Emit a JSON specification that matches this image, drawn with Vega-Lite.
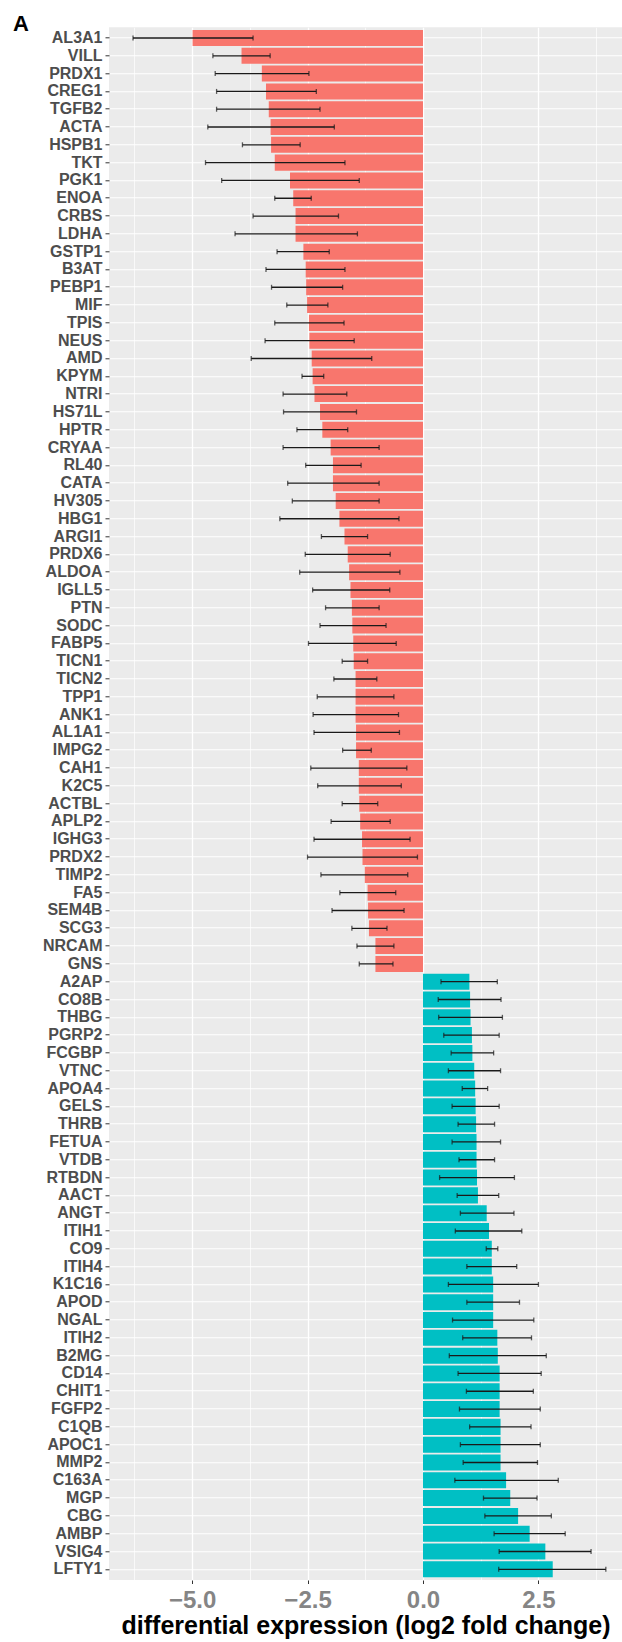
{
  "$schema": "https://vega.github.io/schema/vega-lite/v6.json",
  "autosize": {"type": "none"},
  "padding": {"left": 109, "top": 27.3, "right": 0, "bottom": 62},
  "width": 513,
  "height": 1552.7,
  "background": "white",
  "title": {
    "text": "A",
    "anchor": "start",
    "frame": "group",
    "dx": -96,
    "dy": 9,
    "offset": 0,
    "font": "Liberation Sans",
    "fontSize": 22,
    "fontWeight": "bold",
    "color": "black"
  },
  "config": {
    "view": {"fill": "#EBEBEB", "stroke": null},
    "font": "Liberation Sans"
  },
  "data": {
    "values": [
      {"g": "AL3A1", "fc": -4.99, "lo": -6.28, "hi": -3.68, "dir": "down"},
      {"g": "VILL", "fc": -3.93, "lo": -4.55, "hi": -3.31, "dir": "down"},
      {"g": "PRDX1", "fc": -3.49, "lo": -4.50, "hi": -2.47, "dir": "down"},
      {"g": "CREG1", "fc": -3.40, "lo": -4.47, "hi": -2.31, "dir": "down"},
      {"g": "TGFB2", "fc": -3.34, "lo": -4.47, "hi": -2.23, "dir": "down"},
      {"g": "ACTA", "fc": -3.30, "lo": -4.66, "hi": -1.92, "dir": "down"},
      {"g": "HSPB1", "fc": -3.29, "lo": -3.91, "hi": -2.66, "dir": "down"},
      {"g": "TKT", "fc": -3.21, "lo": -4.71, "hi": -1.69, "dir": "down"},
      {"g": "PGK1", "fc": -2.88, "lo": -4.36, "hi": -1.38, "dir": "down"},
      {"g": "ENOA", "fc": -2.81, "lo": -3.21, "hi": -2.42, "dir": "down"},
      {"g": "CRBS", "fc": -2.76, "lo": -3.68, "hi": -1.83, "dir": "down"},
      {"g": "LDHA", "fc": -2.76, "lo": -4.07, "hi": -1.42, "dir": "down"},
      {"g": "GSTP1", "fc": -2.59, "lo": -3.16, "hi": -2.03, "dir": "down"},
      {"g": "B3AT", "fc": -2.54, "lo": -3.40, "hi": -1.69, "dir": "down"},
      {"g": "PEBP1", "fc": -2.53, "lo": -3.28, "hi": -1.74, "dir": "down"},
      {"g": "MIF", "fc": -2.51, "lo": -2.95, "hi": -2.06, "dir": "down"},
      {"g": "TPIS", "fc": -2.47, "lo": -3.21, "hi": -1.71, "dir": "down"},
      {"g": "NEUS", "fc": -2.46, "lo": -3.42, "hi": -1.49, "dir": "down"},
      {"g": "AMD", "fc": -2.41, "lo": -3.72, "hi": -1.11, "dir": "down"},
      {"g": "KPYM", "fc": -2.39, "lo": -2.62, "hi": -2.15, "dir": "down"},
      {"g": "NTRI", "fc": -2.35, "lo": -3.03, "hi": -1.65, "dir": "down"},
      {"g": "HS71L", "fc": -2.23, "lo": -3.02, "hi": -1.44, "dir": "down"},
      {"g": "HPTR", "fc": -2.18, "lo": -2.73, "hi": -1.63, "dir": "down"},
      {"g": "CRYAA", "fc": -2.00, "lo": -3.03, "hi": -0.95, "dir": "down"},
      {"g": "RL40", "fc": -1.95, "lo": -2.54, "hi": -1.34, "dir": "down"},
      {"g": "CATA", "fc": -1.95, "lo": -2.93, "hi": -0.95, "dir": "down"},
      {"g": "HV305", "fc": -1.89, "lo": -2.83, "hi": -0.95, "dir": "down"},
      {"g": "HBG1", "fc": -1.81, "lo": -3.10, "hi": -0.52, "dir": "down"},
      {"g": "ARGI1", "fc": -1.70, "lo": -2.20, "hi": -1.20, "dir": "down"},
      {"g": "PRDX6", "fc": -1.63, "lo": -2.55, "hi": -0.71, "dir": "down"},
      {"g": "ALDOA", "fc": -1.60, "lo": -2.67, "hi": -0.50, "dir": "down"},
      {"g": "IGLL5", "fc": -1.57, "lo": -2.39, "hi": -0.72, "dir": "down"},
      {"g": "PTN", "fc": -1.54, "lo": -2.11, "hi": -0.95, "dir": "down"},
      {"g": "SODC", "fc": -1.53, "lo": -2.23, "hi": -0.80, "dir": "down"},
      {"g": "FABP5", "fc": -1.51, "lo": -2.48, "hi": -0.58, "dir": "down"},
      {"g": "TICN1", "fc": -1.50, "lo": -1.75, "hi": -1.20, "dir": "down"},
      {"g": "TICN2", "fc": -1.46, "lo": -1.93, "hi": -1.00, "dir": "down"},
      {"g": "TPP1", "fc": -1.46, "lo": -2.29, "hi": -0.63, "dir": "down"},
      {"g": "ANK1", "fc": -1.46, "lo": -2.38, "hi": -0.53, "dir": "down"},
      {"g": "AL1A1", "fc": -1.45, "lo": -2.36, "hi": -0.51, "dir": "down"},
      {"g": "IMPG2", "fc": -1.45, "lo": -1.74, "hi": -1.12, "dir": "down"},
      {"g": "CAH1", "fc": -1.39, "lo": -2.43, "hi": -0.35, "dir": "down"},
      {"g": "K2C5", "fc": -1.39, "lo": -2.28, "hi": -0.47, "dir": "down"},
      {"g": "ACTBL", "fc": -1.38, "lo": -1.75, "hi": -0.98, "dir": "down"},
      {"g": "APLP2", "fc": -1.36, "lo": -1.99, "hi": -0.71, "dir": "down"},
      {"g": "IGHG3", "fc": -1.32, "lo": -2.36, "hi": -0.28, "dir": "down"},
      {"g": "PRDX2", "fc": -1.31, "lo": -2.50, "hi": -0.12, "dir": "down"},
      {"g": "TIMP2", "fc": -1.26, "lo": -2.21, "hi": -0.33, "dir": "down"},
      {"g": "FA5", "fc": -1.20, "lo": -1.80, "hi": -0.59, "dir": "down"},
      {"g": "SEM4B", "fc": -1.19, "lo": -1.97, "hi": -0.41, "dir": "down"},
      {"g": "SCG3", "fc": -1.17, "lo": -1.54, "hi": -0.78, "dir": "down"},
      {"g": "NRCAM", "fc": -1.03, "lo": -1.43, "hi": -0.63, "dir": "down"},
      {"g": "GNS", "fc": -1.03, "lo": -1.38, "hi": -0.65, "dir": "down"},
      {"g": "A2AP", "fc": 1.005, "lo": 0.39, "hi": 1.61, "dir": "up"},
      {"g": "CO8B", "fc": 1.02, "lo": 0.33, "hi": 1.69, "dir": "up"},
      {"g": "THBG", "fc": 1.03, "lo": 0.34, "hi": 1.72, "dir": "up"},
      {"g": "PGRP2", "fc": 1.06, "lo": 0.45, "hi": 1.65, "dir": "up"},
      {"g": "FCGBP", "fc": 1.07, "lo": 0.61, "hi": 1.53, "dir": "up"},
      {"g": "VTNC", "fc": 1.11, "lo": 0.55, "hi": 1.68, "dir": "up"},
      {"g": "APOA4", "fc": 1.13, "lo": 0.85, "hi": 1.40, "dir": "up"},
      {"g": "GELS", "fc": 1.14, "lo": 0.63, "hi": 1.65, "dir": "up"},
      {"g": "THRB", "fc": 1.15, "lo": 0.76, "hi": 1.55, "dir": "up"},
      {"g": "FETUA", "fc": 1.16, "lo": 0.63, "hi": 1.68, "dir": "up"},
      {"g": "VTDB", "fc": 1.16, "lo": 0.78, "hi": 1.55, "dir": "up"},
      {"g": "RTBDN", "fc": 1.17, "lo": 0.36, "hi": 1.98, "dir": "up"},
      {"g": "AACT", "fc": 1.19, "lo": 0.74, "hi": 1.64, "dir": "up"},
      {"g": "ANGT", "fc": 1.38, "lo": 0.81, "hi": 1.97, "dir": "up"},
      {"g": "ITIH1", "fc": 1.43, "lo": 0.70, "hi": 2.14, "dir": "up"},
      {"g": "CO9", "fc": 1.49, "lo": 1.37, "hi": 1.62, "dir": "up"},
      {"g": "ITIH4", "fc": 1.49, "lo": 0.95, "hi": 2.03, "dir": "up"},
      {"g": "K1C16", "fc": 1.52, "lo": 0.55, "hi": 2.50, "dir": "up"},
      {"g": "APOD", "fc": 1.52, "lo": 0.95, "hi": 2.09, "dir": "up"},
      {"g": "NGAL", "fc": 1.52, "lo": 0.64, "hi": 2.40, "dir": "up"},
      {"g": "ITIH2", "fc": 1.61, "lo": 0.86, "hi": 2.35, "dir": "up"},
      {"g": "B2MG", "fc": 1.62, "lo": 0.57, "hi": 2.67, "dir": "up"},
      {"g": "CD14", "fc": 1.66, "lo": 0.76, "hi": 2.56, "dir": "up"},
      {"g": "CHIT1", "fc": 1.66, "lo": 0.94, "hi": 2.39, "dir": "up"},
      {"g": "FGFP2", "fc": 1.66, "lo": 0.79, "hi": 2.54, "dir": "up"},
      {"g": "C1QB", "fc": 1.68, "lo": 1.01, "hi": 2.34, "dir": "up"},
      {"g": "APOC1", "fc": 1.68, "lo": 0.81, "hi": 2.54, "dir": "up"},
      {"g": "MMP2", "fc": 1.68, "lo": 0.87, "hi": 2.48, "dir": "up"},
      {"g": "C163A", "fc": 1.80, "lo": 0.69, "hi": 2.93, "dir": "up"},
      {"g": "MGP", "fc": 1.89, "lo": 1.31, "hi": 2.47, "dir": "up"},
      {"g": "CBG", "fc": 2.06, "lo": 1.34, "hi": 2.78, "dir": "up"},
      {"g": "AMBP", "fc": 2.31, "lo": 1.54, "hi": 3.08, "dir": "up"},
      {"g": "VSIG4", "fc": 2.65, "lo": 1.65, "hi": 3.64, "dir": "up"},
      {"g": "LFTY1", "fc": 2.81, "lo": 1.64, "hi": 3.96, "dir": "up"}
    ]
  },
  "encoding": {
    "y": {
      "field": "g",
      "type": "nominal",
      "sort": null,
      "scale": {"paddingInner": 0.1, "paddingOuter": 0.15},
      "axis": {
        "title": null,
        "domain": false,
        "bandPosition": 0.5,
        "labelFont": "Liberation Sans",
        "labelFontSize": 16,
        "labelFontWeight": "bold",
        "labelColor": "#4D4D4D",
        "labelPadding": 3,
        "tickSize": 4,
        "tickColor": "#333333",
        "tickWidth": 1,
        "grid": true,
        "gridColor": "white",
        "gridWidth": 1.1
      }
    }
  },
  "layer": [
    {
      "mark": {"type": "bar"},
      "encoding": {
        "x": {
          "field": "fc",
          "type": "quantitative",
          "scale": {"domain": [-6.8, 4.31], "nice": false, "zero": false},
          "axis": {
            "title": "differential expression (log2 fold change)",
            "titleFont": "Liberation Sans",
            "titleFontSize": 25,
            "titleFontWeight": "bold",
            "titleColor": "black",
            "titleBaseline": "top",
            "titleY": 33.5,
            "values": [-6.25, -5, -3.75, -2.5, -1.25, 0, 1.25, 2.5, 3.75],
            "format": ".1f",
            "labelExpr": "datum.value % 2.5 == 0 ? datum.label : ''",
            "labelFont": "Liberation Sans",
            "labelFontSize": 24,
            "labelFontWeight": "bold",
            "labelColor": "#858585",
            "labelPadding": 4.7,
            "labelFlush": false,
            "labelOverlap": false,
            "domain": false,
            "tickSize": 3.5,
            "tickColor": "#333333",
            "tickOpacity": {"condition": {"test": "datum.value % 2.5 == 0", "value": 1}, "value": 0},
            "grid": true,
            "gridColor": "white",
            "gridWidth": {"condition": {"test": "datum.value % 2.5 == 0", "value": 1.3}, "value": 0.7}
          }
        },
        "x2": {"datum": 0},
        "color": {
          "field": "dir",
          "type": "nominal",
          "scale": {"domain": ["down", "up"], "range": ["#F8766D", "#00BFC4"]},
          "legend": null
        }
      }
    },
    {
      "mark": {"type": "rule", "color": "#1A1A1A", "strokeWidth": 1.3},
      "encoding": {
        "x": {"field": "lo", "type": "quantitative"},
        "x2": {"field": "hi"}
      }
    },
    {
      "mark": {"type": "tick", "color": "#1A1A1A", "size": 5, "thickness": 1.3},
      "encoding": {"x": {"field": "lo", "type": "quantitative"}}
    },
    {
      "mark": {"type": "tick", "color": "#1A1A1A", "size": 5, "thickness": 1.3},
      "encoding": {"x": {"field": "hi", "type": "quantitative"}}
    }
  ]
}
